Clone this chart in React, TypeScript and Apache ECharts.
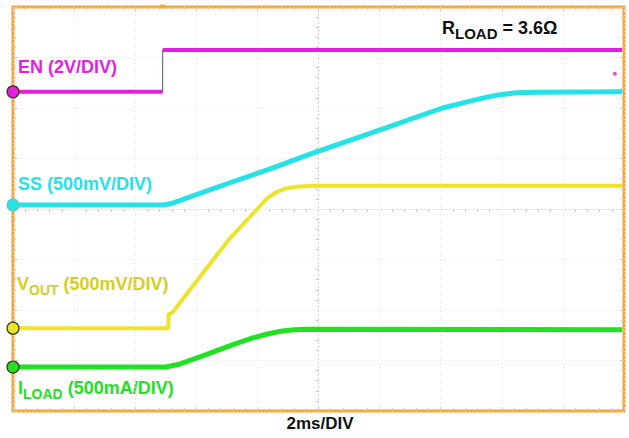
import React, { useEffect, useRef } from "react";
import * as echarts from "echarts";

// Oscilloscope screen: 10 horizontal divisions, 8 vertical divisions (centre = 0)
const timeRange = [-5, 5];
const levelRange = [-4, 4];

// Traces, in divisions: [time, level]
const enTrace: [number, number][] = [
  [-5, 2.32], [-2.55, 2.32], [-2.55, 3.15], [4.97, 3.15],
];
const ssTrace: [number, number][] = [
  [-5, 0.08], [-2.55, 0.08], [-2.4, 0.11], [-1.45, 0.52], [-0.8, 0.79],
  [-0.15, 1.08], [0.95, 1.54], [2.03, 2.0], [2.4, 2.11], [2.7, 2.2],
  [2.95, 2.26], [3.25, 2.3], [3.6, 2.31], [4.97, 2.32],
];
const voutTrace: [number, number][] = [
  [-5, -2.36], [-2.46, -2.36], [-2.45, -2.08], [-2.39, -2.05], [-1.99, -1.42],
  [-1.45, -0.58], [-1.01, -0.01], [-0.85, 0.2], [-0.7, 0.33], [-0.55, 0.4],
  [-0.36, 0.44], [-0.1, 0.46], [4.97, 0.46],
];
const iloadTrace: [number, number][] = [
  [-5, -3.13], [-2.5, -3.13], [-2.3, -3.08], [-1.94, -2.93], [-1.41, -2.69],
  [-1.1, -2.56], [-0.85, -2.48], [-0.62, -2.42], [-0.4, -2.39], [-0.2, -2.38],
  [4.97, -2.39],
];
const triggerTime = -2.55;
const triggerLevel: [number, number] = [4.85, 2.68];

const channelColors = ["#E21FE0", "#24E2E6", "#ECE42A", "#24E024"];
const labelColors = ["#E21FE0", "#22E4E8", "#D6CE1C", "#22E022"];
const FONT = 'Arial, "Liberation Sans", Helvetica, sans-serif';

function richLabel(x: number, y: number, text: string, color: string, size = 18, subSize = 14, align = "left") {
  return {
    type: "text",
    x,
    y,
    silent: true,
    style: {
      text,
      align,
      verticalAlign: "middle",
      rich: {
        m: { fontSize: size, fontWeight: "bold", fontFamily: FONT, fill: color },
        s: { fontSize: subSize, fontWeight: "bold", fontFamily: FONT, fill: color, padding: [11, 0, 0, 0] },
      },
    },
  };
}

const gridLine = { color: "#e2e2e2", type: [1, 3], width: 1 };
const tickLine = { color: "#cacaca", width: 1 };

function edgeAxis(range: number[], position: string) {
  return {
    type: "value",
    min: range[0],
    max: range[1],
    interval: 1,
    position,
    axisLine: { show: false, onZero: false },
    axisTick: { show: true, inside: true, length: 4, lineStyle: tickLine },
    minorTick: { show: true, splitNumber: 5, length: 3, lineStyle: tickLine },
    axisLabel: { show: false },
    splitLine: { show: false },
  };
}

function centreAxis(range: number[]) {
  return {
    type: "value",
    min: range[0],
    max: range[1],
    interval: 1,
    axisLine: { show: true, onZero: true, lineStyle: { color: "#d4d4d4", type: [1, 3], width: 1 } },
    axisTick: { show: false },
    minorTick: { show: true, splitNumber: 5, length: 3, lineStyle: tickLine },
    axisLabel: { show: false },
    splitLine: { show: true, lineStyle: gridLine },
  };
}

export default function App() {
  const ref = useRef<HTMLDivElement>(null);
  useEffect(() => {
    if (!ref.current) return;
    const chart = echarts.init(ref.current, null, { renderer: "svg" });
    const enData: any[] = [enTrace[0], enTrace[1], [enTrace[1][0], "-"], enTrace[2], enTrace[3]];
    const traceSeries = (name: string, data: any[], color: string, width: number) => ({
      name,
      type: "line",
      data,
      xAxisIndex: 0,
      yAxisIndex: 0,
      symbol: "none",
      connectNulls: false,
      lineStyle: { color, width, cap: "butt", join: "round" },
      z: 3,
    });
    chart.setOption({
      animation: false,
      backgroundColor: "#ffffff",
      grid: {
        left: 13,
        top: 7,
        right: 5,
        bottom: 27,
        show: true,
        borderColor: "#F2A43A",
        borderWidth: 3,
        backgroundColor: "#ffffff",
        z: 0,
      },
      xAxis: [centreAxis(timeRange), edgeAxis(timeRange, "bottom"), edgeAxis(timeRange, "top")],
      yAxis: [centreAxis(levelRange), edgeAxis(levelRange, "left"), edgeAxis(levelRange, "right")],
      series: [
        traceSeries("EN", enData, channelColors[0], 4),
        {
          name: "EN edge",
          type: "line",
          data: [enTrace[1], enTrace[2]],
          symbol: "none",
          lineStyle: { color: "#6a4a6a", width: 1 },
          z: 3,
        },
        traceSeries("SS", ssTrace, channelColors[1], 5),
        traceSeries("VOUT", voutTrace, channelColors[2], 4),
        traceSeries("ILOAD", iloadTrace, channelColors[3], 5),
        {
          name: "markers",
          type: "scatter",
          clip: false,
          symbolSize: 12,
          z: 5,
          data: [enTrace[0], ssTrace[0], voutTrace[0], iloadTrace[0]].map((p, i) => ({
            value: p,
            itemStyle: {
              color: channelColors[i],
              borderColor: i === 1 ? "#7fbfc0" : "#3a3a1a",
              borderWidth: 1.2,
              opacity: 1,
            },
          })),
        },
        {
          name: "trigger",
          type: "scatter",
          clip: false,
          z: 5,
          data: [
            { value: [triggerTime, levelRange[1]], symbol: "triangle", symbolRotate: 180, symbolSize: [7, 5], itemStyle: { color: "#F2A43A" } },
            { value: triggerLevel, symbol: "circle", symbolSize: 4, itemStyle: { color: channelColors[0] } },
          ],
        },
      ],
      graphic: [
        richLabel(18, 67, "{m|EN (2V/DIV)}", labelColors[0]),
        richLabel(18, 184, "{m|SS (500mV/DIV)}", labelColors[1]),
        richLabel(17, 284, "{m|V}{s|OUT}{m| (500mV/DIV)}", labelColors[2]),
        richLabel(18, 388, "{m|I}{s|LOAD}{m| (500mA/DIV)}", labelColors[3]),
        richLabel(442, 28, "{m|R}{s|LOAD}{m| = 3.6Ω}", "#111111", 18, 15),
        {
          type: "text",
          x: 320,
          y: 423,
          silent: true,
          style: {
            text: "2ms/DIV",
            align: "center",
            verticalAlign: "middle",
            fontSize: 17,
            fontWeight: "bold",
            fontFamily: FONT,
            fill: "#111111",
          },
        },
      ],
    });
    return () => chart.dispose();
  }, []);
  return (
    <div
      ref={ref}
      style={{ position: "fixed", left: 0, top: 0, width: 629, height: 438, background: "#fff" }}
    />
  );
}
